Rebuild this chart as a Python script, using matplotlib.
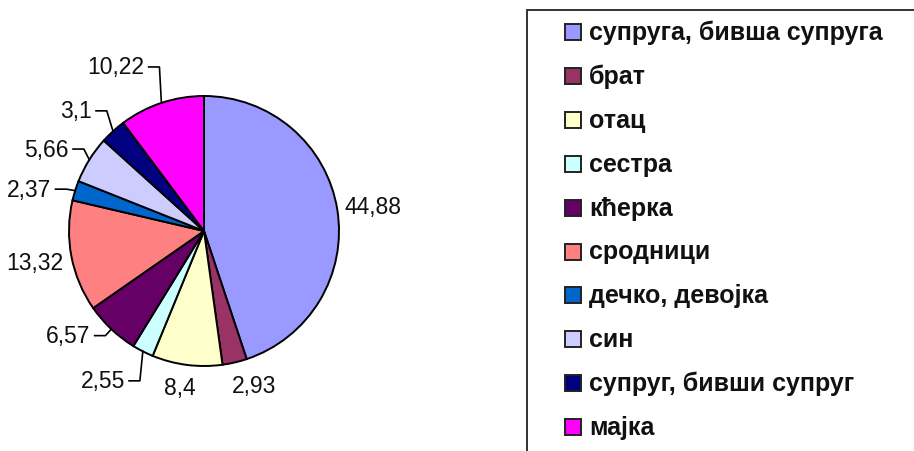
import matplotlib.pyplot as plt
from matplotlib.patches import Rectangle
import numpy as np

# share of each relation (percent), in drawing order (clockwise from 12 o'clock)
categories = ["супруга, бивша супруга", "брат", "отац", "сестра", "кћерка",
              "сродници", "дечко, девојка", "син", "супруг, бивши супруг", "мајка"]
values = [44.88, 2.93, 8.4, 2.55, 6.57, 13.32, 2.37, 5.66, 3.1, 10.22]
value_labels = ["44,88", "2,93", "8,4", "2,55", "6,57", "13,32", "2,37", "5,66", "3,1", "10,22"]
colors = ["#9999FF", "#993366", "#FFFFCC", "#CCFFFF", "#660066",
          "#FF8080", "#0066CC", "#CCCCFF", "#000080", "#FF00FF"]

# label placement (in pie radius units) and whether a leader line is drawn
label_pos = [(1.04, 0.185), (0.207, -1.148), (-0.178, -1.156), (-0.585, -1.11),
             (-0.84, -0.775), (-1.04, -0.23), (-1.13, 0.31), (-1.0, 0.607),
             (-0.83, 0.89), (-0.44, 1.215)]
label_ha = ["left", "left", "center", "right", "right", "right", "right", "right", "right", "right"]
leader = [False, False, False, True, True, False, True, True, True, True]

W, H = 914, 452
fig = plt.figure(figsize=(W / 100, H / 100), dpi=100)
fig.patch.set_facecolor("white")
plt.rcParams['font.family'] = ['Liberation Sans', 'DejaVu Sans']

cx, cy, r = 204, 232, 135
ax = fig.add_axes([(cx - r) / W, (H - cy - r) / H, 2 * r / W, 2 * r / H])
wedges, _ = ax.pie(values, colors=colors, startangle=90, counterclock=False, radius=1,
                   wedgeprops=dict(edgecolor="black", linewidth=1.4))
ax.set_xlim(-1, 1)
ax.set_ylim(-1, 1)
ax.set_aspect("equal")
ax.axis("off")

for w, txt, (tx, ty), ha, lead in zip(wedges, value_labels, label_pos, label_ha, leader):
    ax.text(tx, ty, txt, ha=ha, va="center", fontsize=16.5, color="#111111")
    if lead:
        mid = np.deg2rad((w.theta1 + w.theta2) / 2)
        ex, ey = np.cos(mid), np.sin(mid)
        x0 = tx + 0.03 if ha == "right" else tx - 0.03
        x1 = x0 + 0.08
        ax.plot([x0, x1, ex], [ty, ty, ey], color="black", lw=1.2, clip_on=False)

# legend box, cut off by the right and bottom image edges
fig.patches.append(Rectangle((527 / W, -0.1), 0.5, (H - 11) / H + 0.1,
                             transform=fig.transFigure, fill=False,
                             edgecolor="#333333", linewidth=1.4))
row_y = 33
for name, c in zip(categories, colors):
    fig.patches.append(Rectangle((565 / W, (H - row_y - 8) / H), 16 / W, 16 / H,
                                 transform=fig.transFigure, facecolor=c,
                                 edgecolor="#222222", linewidth=1.4))
    fig.text(589 / W, (H - row_y) / H, name, ha="left", va="center",
             fontsize=18, fontweight="bold", color="#111111")
    row_y += 43.9

fig.savefig("out.png", dpi=100)
